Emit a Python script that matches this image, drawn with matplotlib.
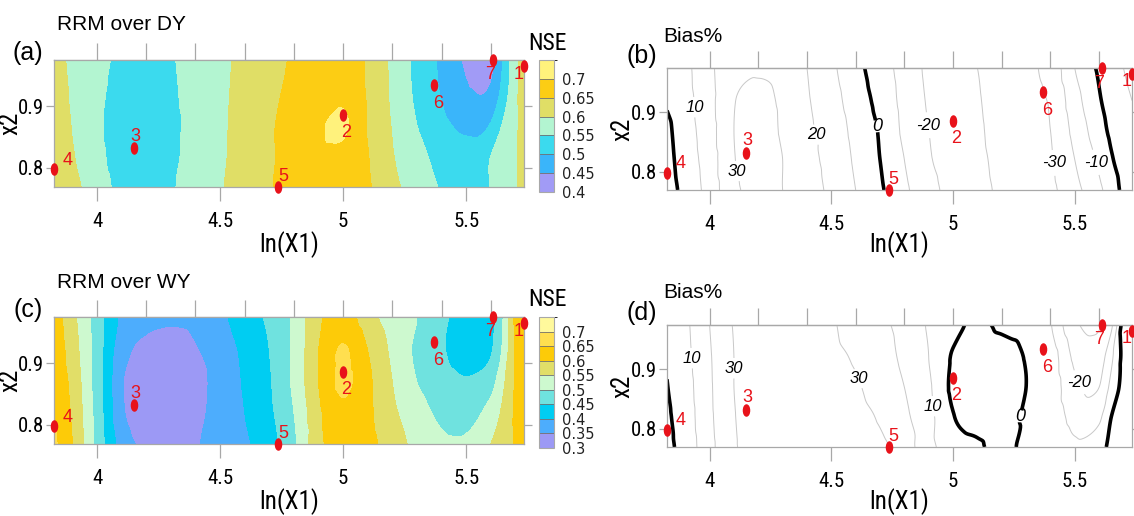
import numpy as np
import matplotlib
matplotlib.use("Agg")
import matplotlib.pyplot as plt
from matplotlib import font_manager
from matplotlib.font_manager import FontProperties
from matplotlib.tri import Triangulation, UniformTriRefiner, CubicTriInterpolator
from matplotlib.colors import ListedColormap, BoundaryNorm
from matplotlib.cm import ScalarMappable
from matplotlib.path import Path
from matplotlib.transforms import Affine2D

# ---------------- data ----------------
pt_labels = ["1", "2", "3", "4", "5", "6", "7"]
pt_lnx1 = [5.735, 5.0, 4.15, 3.825, 4.736, 5.37, 5.61]
pt_x2 = [0.965, 0.885, 0.832, 0.798, 0.769, 0.934, 0.975]

grid_lnx1 = [3.825, 3.9, 4.0, 4.1, 4.2, 4.3, 4.4, 4.5, 4.6, 4.7, 4.8,
             4.9, 5.0, 5.1, 5.2, 5.3, 5.35, 5.4, 5.5, 5.6, 5.65, 5.7, 5.735]
grid_x2 = [0.769, 0.82, 0.87, 0.92, 0.975]

nse_dy = [
    [0.63, 0.612, 0.575, 0.535, 0.522, 0.545, 0.57, 0.596, 0.62, 0.646, 0.668, 0.684, 0.688, 0.656, 0.612, 0.58, 0.562, 0.545, 0.52, 0.552, 0.575, 0.597, 0.61],
    [0.625, 0.603, 0.565, 0.525, 0.51, 0.538, 0.57, 0.593, 0.618, 0.643, 0.67, 0.688, 0.69, 0.652, 0.603, 0.565, 0.548, 0.53, 0.515, 0.55, 0.575, 0.597, 0.612],
    [0.62, 0.598, 0.56, 0.522, 0.508, 0.535, 0.57, 0.592, 0.617, 0.643, 0.672, 0.693, 0.708, 0.647, 0.597, 0.55, 0.532, 0.512, 0.49, 0.503, 0.555, 0.592, 0.615],
    [0.618, 0.595, 0.563, 0.528, 0.515, 0.54, 0.572, 0.591, 0.615, 0.638, 0.663, 0.683, 0.69, 0.645, 0.592, 0.54, 0.518, 0.497, 0.458, 0.46, 0.52, 0.59, 0.618],
    [0.615, 0.592, 0.567, 0.537, 0.525, 0.545, 0.573, 0.59, 0.612, 0.635, 0.655, 0.672, 0.678, 0.643, 0.59, 0.535, 0.512, 0.49, 0.443, 0.43, 0.5, 0.585, 0.62],
]
nse_wy = [
    [0.66, 0.6, 0.485, 0.38, 0.335, 0.32, 0.345, 0.37, 0.392, 0.43, 0.49, 0.585, 0.63, 0.615, 0.575, 0.535, 0.52, 0.51, 0.51, 0.55, 0.575, 0.605, 0.625],
    [0.65, 0.592, 0.48, 0.36, 0.315, 0.305, 0.335, 0.37, 0.4, 0.44, 0.5, 0.59, 0.64, 0.61, 0.56, 0.52, 0.503, 0.49, 0.48, 0.52, 0.56, 0.607, 0.628],
    [0.64, 0.585, 0.475, 0.355, 0.31, 0.3, 0.33, 0.37, 0.405, 0.445, 0.51, 0.6, 0.66, 0.61, 0.55, 0.5, 0.484, 0.47, 0.455, 0.48, 0.54, 0.605, 0.63],
    [0.635, 0.575, 0.475, 0.37, 0.335, 0.325, 0.345, 0.375, 0.41, 0.45, 0.51, 0.6, 0.655, 0.6, 0.54, 0.49, 0.47, 0.455, 0.43, 0.445, 0.51, 0.607, 0.633],
    [0.63, 0.565, 0.475, 0.39, 0.365, 0.36, 0.365, 0.39, 0.425, 0.46, 0.51, 0.59, 0.625, 0.57, 0.525, 0.5, 0.478, 0.46, 0.43, 0.435, 0.5, 0.61, 0.635],
]
bias_dy = [
    [-4, 3, 14, 28, 32, 30, 24, 18, 10, 1.5, -8, -17, -23, -28, -31, -33, -33, -32, -23, -12, -5, 2, 4],
    [-3, 4.5, 15, 29.5, 33, 30, 23, 17, 8.5, 0, -10, -19, -24, -28.5, -31.5, -33, -32.5, -31, -20, -8, -1, 4, 6],
    [-2, 5.5, 16, 30, 33, 29, 22, 16, 7, -1, -12, -20, -25, -29, -32, -33, -32, -30, -17, -4, 2, 6, 8],
    [1, 6.5, 17, 29.5, 32, 28.5, 21, 14, 5, -3, -13, -21, -26, -29.5, -32, -32.5, -31, -29, -14, -1, 4, 8, 10],
    [3, 7.5, 18, 27, 29, 27, 20, 12, 3, -5, -14, -22, -27, -30, -32, -32, -30, -27, -10, 1.5, 6, 10, 12],
]
bias_wy = [
    [-2.5, 4, 17, 29, 32.5, 33.5, 34, 34, 33.5, 32, 25, 13, 5, 1.5, -3, 2, 1, -2, -8, -4, 2.5, 4, 5.5],
    [-1.5, 5, 18, 29.5, 33, 34, 34.5, 34, 32.5, 29, 22, 13, 0.5, -4, -3.5, 1, 2, -3, -13, -12, 0, 3.5, 5.5],
    [-0.3, 6, 18.5, 30, 33, 34, 34.5, 33, 31, 26, 20, 11.5, -2, -6, -5, 0, 2, -3, -18, -20, -7, 3, 5],
    [0.8, 7, 19, 30, 33, 34, 34, 32, 29, 24, 18, 10, -1, -5, -5, 0.5, 2, -4, -22, -25, -12, 2.5, 4.5],
    [2, 8, 20, 30.5, 33, 34, 33.5, 31, 26, 22, 17, 9, 3, -2, 2, 4, 3, -9, -28, -31, -22, 4, 6],
]

nse_levels_dy = [0.4, 0.45, 0.5, 0.55, 0.6, 0.65, 0.7, 0.75]
nse_colors_dy = ["#A19BF6", "#3AB5FA", "#3BDAEE", "#B3F5D1", "#E0DE66", "#FCCD14", "#FFF27C"]
nse_levels_wy = [0.3, 0.35, 0.4, 0.45, 0.5, 0.55, 0.6, 0.65, 0.7, 0.75]
nse_colors_wy = ["#9C99F5", "#4DADFD", "#00CDF2", "#6FE2DF", "#CDF9CF", "#E1DE68", "#FDCB08", "#FFDF4F", "#FFF99C"]

bias_levels = [-30, -20, -10, 10, 20, 30]
bias_label_pos_dy = [(3.948, 0.909), (4.10, 0.800), (4.432, 0.862),
                     (4.89, 0.878), (5.396, 0.814), (5.568, 0.814)]
bias_zero_pos_dy = [(4.678, 0.876)]
bias_label_pos_wy = [(3.928, 0.919), (4.10, 0.902), (4.614, 0.885),
                     (4.897, 0.837), (5.553, 0.888)]
bias_zero_pos_wy = [(5.274, 0.821)]
zero_hidden_wy = (5.34, 5.6)

# ---------------- fonts ----------------
names = {f.name for f in font_manager.fontManager.ttflist}
SANS = "Liberation Sans" if "Liberation Sans" in names else "DejaVu Sans"
plt.rcParams["font.family"] = [SANS, "DejaVu Sans"]


def find_narrow():
    prefs = ["Liberation Sans Narrow", "Roboto Condensed", "Arial Narrow",
             "DejaVu Sans Condensed", "Noto Sans Condensed", "Open Sans Condensed"]
    cands = []
    for f in font_manager.fontManager.ttflist:
        w = f.weight
        wnum = w if isinstance(w, int) else {"normal": 400, "regular": 400, "book": 400}.get(str(w).lower(), 700)
        if f.style != "normal" or wnum > 450 or wnum < 350:
            continue
        narrowish = ("Narrow" in f.name or "Condensed" in f.name or
                     str(f.stretch) in ("condensed", "semi-condensed", "extra-condensed",
                                        "ultra-condensed") or
                     (isinstance(f.stretch, int) and f.stretch < 500))
        if narrowish:
            cands.append(f)
    for p in prefs:
        for f in cands:
            if f.name == p:
                return FontProperties(fname=f.fname), True
    for base in ["Liberation Sans", "Roboto", "DejaVu Sans", "Noto Sans", "Open Sans"]:
        for f in cands:
            if f.name.startswith(base) and "Mono" not in f.name:
                return FontProperties(fname=f.fname), True
    return FontProperties(family=SANS), False


NARROW_FP, HAVE_NARROW = find_narrow()
TICK_SIZE = 15 if HAVE_NARROW else 12.5
LAB_SIZE = 18 if HAVE_NARROW else 15


def nfp(size):
    fp = NARROW_FP.copy()
    fp.set_size(size)
    return fp


W, H = 1134, 516
fig = plt.figure(figsize=(W / 100, H / 100), dpi=100)


def fx(px):
    return px / W


def fy(py):
    return 1 - py / H


def box(l, t, r, b):
    return [fx(l), fy(b), fx(r) - fx(l), (b - t) / H]


GREY = "#A8A8A8"
RED = "#E8121A"

ell = Path.unit_circle().transformed(Affine2D().scale(0.55, 1.0))
label_offsets = {"1": (-5, -8), "2": (3, -17), "3": (1, 12), "4": (14, 9),
                 "5": (5, 10), "6": (4, -18), "7": (-3, -15)}

# structured triangulation of the value grid (y stretched to screen proportions)
YS = 2.5
nx, ny = len(grid_lnx1), len(grid_x2)
X, Y = np.meshgrid(grid_lnx1, grid_x2)
tris = []
for j in range(ny - 1):
    for i in range(nx - 1):
        a = j * nx + i
        b = a + 1
        c = a + nx
        d = c + 1
        tris += [[a, b, d], [a, d, c]]
tri = Triangulation(X.ravel(), Y.ravel() * YS, np.array(tris))
refiner = UniformTriRefiner(tri)


def smooth(field):
    z = np.asarray(field, float).ravel()
    interp = CubicTriInterpolator(tri, z, kind="geom")
    tf, zf = refiner.refine_field(z, triinterpolator=interp, subdiv=4)
    return Triangulation(tf.x, tf.y / YS, tf.triangles), zf


def style_axes(ax):
    ax.set_xlim(grid_lnx1[0], grid_lnx1[-1])
    ax.set_ylim(grid_x2[0], grid_x2[-1])
    for s in ax.spines.values():
        s.set_color(GREY)
        s.set_linewidth(0.9)
    ax.set_xticks([4, 4.5, 5, 5.5])
    ax.set_xticklabels(["4", "4.5", "5", "5.5"])
    ax.set_yticks([0.8, 0.9])
    ax.set_yticklabels(["0.8", "0.9"])
    ax.tick_params(axis="x", direction="out", length=10, width=0.9, color=GREY, pad=8)
    ax.tick_params(axis="y", direction="out", length=6, width=0.9, color=GREY,
                   pad=1, right=True)
    for lab in ax.get_xticklabels() + ax.get_yticklabels():
        lab.set_fontproperties(nfp(TICK_SIZE))
    top = ax.secondary_xaxis("top")
    top.set_xticks(np.arange(4.0, 5.61, 0.2))
    top.tick_params(direction="out", length=12, width=0.9, color=GREY, labeltop=False)
    top.spines["top"].set_color(GREY)
    top.spines["top"].set_linewidth(0.9)


def draw_points(ax):
    ax.plot(pt_lnx1, pt_x2, ls="none", marker=ell, ms=8, color=RED,
            clip_on=False, zorder=6)
    for lab, x, y in zip(pt_labels, pt_lnx1, pt_x2):
        dx, dy = label_offsets[lab]
        ax.annotate(lab, (x, y), xytext=(dx, dy), textcoords="offset pixels",
                    color=RED, fontsize=13, ha="center", va="center",
                    annotation_clip=False, zorder=7)


def side_labels(rect, xlab_x, xlab_dy):
    l, t, r, b = rect
    fig.text(fx(xlab_x), fy((t + b) / 2), "x2", rotation=90, va="center",
             ha="center", fontproperties=nfp(LAB_SIZE))
    fig.text(fx((l + r) / 2), fy(b + xlab_dy), "ln(X1)", va="center",
             ha="center", fontproperties=nfp(LAB_SIZE))


def nse_panel(rect, field, levels, colors, cbar_rect, letter, title, ty):
    ax = fig.add_axes(box(*rect))
    cmap = ListedColormap(colors)
    cmap.set_under(colors[0])
    cmap.set_over(colors[-1])
    tf, zf = smooth(field)
    ax.tricontourf(tf, zf, levels=levels, cmap=cmap, extend="both")
    style_axes(ax)
    draw_points(ax)
    cax = fig.add_axes(box(*cbar_rect))
    norm = BoundaryNorm(levels, len(colors))
    cb = fig.colorbar(ScalarMappable(norm=norm, cmap=ListedColormap(colors)),
                      cax=cax, ticks=levels[:-1], drawedges=True)
    cb.outline.set_edgecolor(GREY)
    cb.dividers.set_color("#707070")
    cb.dividers.set_linewidth(0.6)
    cax.set_yticklabels([f"{v:g}" for v in levels[:-1]])
    cax.tick_params(length=0, pad=6, labelsize=10.5, labelcolor="#222222")
    for t in cax.get_yticklabels():
        t.set_family("DejaVu Sans")
    fig.text(fx(548), fy(cbar_rect[1] - 17), "NSE", ha="center", va="center",
             fontproperties=nfp(LAB_SIZE - 1))
    l, t, r, b = rect
    fig.text(fx(57), fy(ty), title, fontsize=15, va="center", ha="left")
    fig.text(fx(28), fy(t - 7), letter, fontsize=18, va="center", ha="center")
    side_labels(rect, 10, 58)
    return ax


def bias_panel(rect, field, label_pos, zero_pos, letter, ty, hidden=None):
    ax = fig.add_axes(box(*rect))
    tf, zf = smooth(field)
    cs = ax.tricontour(tf, zf, levels=bias_levels, colors="#C8C8C8",
                       linewidths=0.7, linestyles="solid")
    cz = ax.tricontour(tf, zf, levels=[0], colors="black", linewidths=2.6,
                       linestyles="solid")
    texts = list(ax.clabel(cs, manual=label_pos, inline=True, inline_spacing=1,
                           fmt="%d", fontsize=12, colors="black"))
    texts += list(ax.clabel(cz, manual=zero_pos, inline=True, inline_spacing=1,
                            fmt="%d", fontsize=13, colors="black"))
    for t in texts:
        t.set_fontstyle("italic")
        t.set_rotation(0)
    if hidden is not None:
        a, b2 = hidden
        verts = [(-10, -10), (a, -10), (a, 10), (-10, 10), (-10, -10),
                 (b2, -10), (10, -10), (10, 10), (b2, 10), (b2, -10)]
        codes = [Path.MOVETO, Path.LINETO, Path.LINETO, Path.LINETO, Path.CLOSEPOLY] * 2
        cz.set_clip_path(Path(verts, codes), ax.transData)
    style_axes(ax)
    draw_points(ax)
    l, t, r, b = rect
    fig.text(fx(663), fy(ty), "Bias%", fontsize=15, va="center", ha="left")
    fig.text(fx(642), fy(t - 12), letter, fontsize=18, va="center", ha="center")
    side_labels(rect, 622, 55)
    return ax


nse_panel((54, 60, 524, 187), nse_dy, nse_levels_dy, nse_colors_dy,
          (539, 60, 554, 192), "(a)", "RRM over DY", 25)
bias_panel((667, 68, 1132, 190), bias_dy, bias_label_pos_dy, bias_zero_pos_dy, "(b)", 36)
nse_panel((54, 317, 524, 444), nse_wy, nse_levels_wy, nse_colors_wy,
          (539, 317, 554, 448), "(c)", "RRM over WY", 282)
bias_panel((667, 325, 1132, 447), bias_wy, bias_label_pos_wy, bias_zero_pos_wy, "(d)", 292,
           hidden=zero_hidden_wy)

fig.savefig("out.png", dpi=100)
